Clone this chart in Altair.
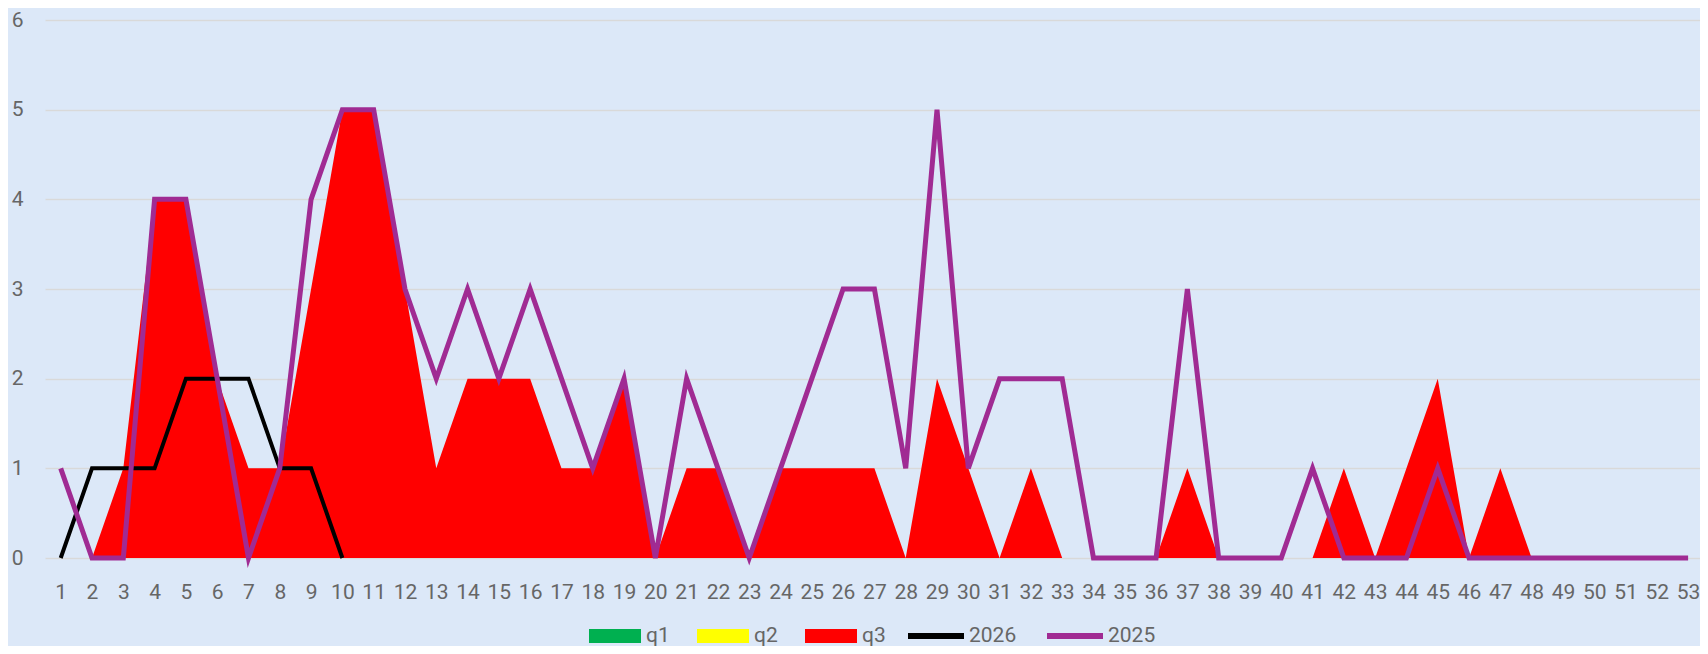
import altair as alt
import pandas as pd

weeks = [1, 2, 3, 4, 5, 6, 7, 8, 9, 10, 11, 12, 13, 14, 15, 16, 17, 18, 19, 20,
         21, 22, 23, 24, 25, 26, 27, 28, 29, 30, 31, 32, 33, 34, 35, 36, 37, 38, 39, 40,
         41, 42, 43, 44, 45, 46, 47, 48, 49, 50, 51, 52, 53]

q1 = [0, 0, 0, 0, 0, 0, 0, 0, 0, 0, 0, 0, 0, 0, 0, 0, 0, 0, 0, 0,
      0, 0, 0, 0, 0, 0, 0, 0, 0, 0, 0, 0, 0, 0, 0, 0, 0, 0, 0, 0,
      0, 0, 0, 0, 0, 0, 0, 0, 0, 0, 0, 0, 0]
q2 = [0, 0, 0, 0, 0, 0, 0, 0, 0, 0, 0, 0, 0, 0, 0, 0, 0, 0, 0, 0,
      0, 0, 0, 0, 0, 0, 0, 0, 0, 0, 0, 0, 0, 0, 0, 0, 0, 0, 0, 0,
      0, 0, 0, 0, 0, 0, 0, 0, 0, 0, 0, 0, 0]
q3 = [0, 0, 1, 4, 4, 2, 1, 1, 3, 5, 5, 3, 1, 2, 2, 2, 1, 1, 2, 0,
      1, 1, 0, 1, 1, 1, 1, 0, 2, 1, 0, 1, 0, 0, 0, 0, 1, 0, 0, 0,
      0, 1, 0, 1, 2, 0, 1, 0, 0, 0, 0, 0, 0]

y2026 = [0, 1, 1, 1, 2, 2, 2, 1, 1, 0]
y2025 = [1, 0, 0, 4, 4, 2, 0, 1, 4, 5, 5, 3, 2, 3, 2, 3, 2, 1, 2, 0,
         2, 1, 0, 1, 2, 3, 3, 1, 5, 1, 2, 2, 2, 0, 0, 0, 3, 0, 0, 0,
         1, 0, 0, 0, 1, 0, 0, 0, 0, 0, 0, 0, 0]

area_names = ["q1", "q2", "q3"]
area_colors = ["#00b050", "#ffff00", "#ff0000"]
line_names = ["2026", "2025"]
line_colors = ["#000000", "#a02b93"]

rows = []
for name, vals in zip(area_names, [q1, q2, q3]):
    for w, v in zip(weeks, vals):
        rows.append({"week": w, "series": name, "value": v})
area_df = pd.DataFrame(rows)

lrows = []
for name, vals in zip(line_names, [y2026, y2025]):
    for w, v in zip(weeks, vals):
        lrows.append({"week": w, "year": name, "value": v})
line_df = pd.DataFrame(lrows)

FONT = "Roboto"
TXT = "#666666"

xscale = alt.Scale(domain=[0.498, 53.38], nice=False, zero=False)
yscale = alt.Scale(domain=[0, 6], nice=False)

xaxis = alt.Axis(values=weeks, format="d", title=None, grid=False, ticks=False,
                 tickSize=0, domain=False, labelFontSize=21, labelColor=TXT,
                 labelFont=FONT, labelPadding=23, labelFlush=False,
                 labelOverlap=False)
yaxis = alt.Axis(values=[0, 1, 2, 3, 4, 5, 6], format="d", title=None, grid=True,
                 gridColor="#d9d9d9", gridWidth=1.5, ticks=False, tickSize=0,
                 domain=False, labelFontSize=21, labelColor=TXT, labelFont=FONT,
                 labelPadding=22)

fill_legend = alt.Legend(title=None, orient="none", legendX=544, legendY=603,
                         direction="horizontal", padding=0,
                         symbolType="M-1,-0.269H1V0.269H-1Z", symbolSize=2704,
                         symbolStrokeWidth=0, symbolOpacity=1, clipHeight=26,
                         labelFontSize=21, labelColor=TXT, labelFont=FONT,
                         labelOffset=5, columnPadding=27)
stroke_legend = alt.Legend(title=None, orient="none", legendX=860, legendY=603,
                           direction="horizontal", padding=0,
                           symbolType="M-1,0H1", symbolSize=3136,
                           symbolStrokeWidth=6, symbolOpacity=1, clipHeight=26,
                           labelFontSize=21, labelColor=TXT, labelFont=FONT,
                           labelOffset=2, columnPadding=27)

fill_scale = alt.Scale(domain=area_names, range=area_colors)
stroke_scale = alt.Scale(domain=line_names, range=line_colors)

area = alt.Chart(area_df).mark_area(interpolate="linear", opacity=1).encode(
    x=alt.X("week:Q", scale=xscale, axis=xaxis),
    y=alt.Y("value:Q", stack="zero", scale=yscale, axis=yaxis),
    fill=alt.Fill("series:N", scale=fill_scale, legend=fill_legend),
)

line26 = alt.Chart(line_df).transform_filter("datum.year == '2026'").mark_line(
    strokeWidth=4, interpolate="linear").encode(
    x=alt.X("week:Q", scale=xscale, axis=xaxis),
    y=alt.Y("value:Q", scale=yscale, axis=yaxis),
    stroke=alt.Stroke("year:N", scale=stroke_scale, legend=stroke_legend),
)

line25 = alt.Chart(line_df).transform_filter("datum.year == '2025'").mark_line(
    strokeWidth=5, interpolate="linear").encode(
    x=alt.X("week:Q", scale=xscale, axis=xaxis),
    y=alt.Y("value:Q", scale=yscale, axis=yaxis),
    stroke=alt.Stroke("year:N", scale=stroke_scale, legend=stroke_legend),
)

chart = alt.layer(area, line26, line25).properties(
    width=1655, height=538,
    padding={"left": 37, "top": 12, "right": 0, "bottom": 88},
    autosize=alt.AutoSizeParams(type="none"),
    background="#dce8f8",
).configure_view(stroke=None)

chart.save("out.html", embed_options={"renderer": "svg", "actions": False})
